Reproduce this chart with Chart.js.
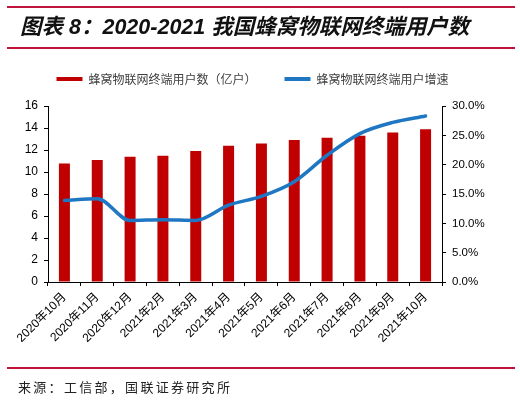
<!DOCTYPE html>
<html><head><meta charset="utf-8">
<script src="https://cdn.jsdelivr.net/npm/chart.js@4.4.0/dist/chart.umd.min.js"></script>
<style>
html,body{margin:0;padding:0;background:#fff;width:520px;height:400px;overflow:hidden;}
#wrap{position:relative;width:520px;height:400px;}
#c{position:absolute;left:0;top:0;}
.rule{position:absolute;left:7px;width:508px;height:2px;background:#C0143C;}
#title{position:absolute;left:20px;top:12px;font:italic bold 21.5px 'Liberation Sans','Noto Sans CJK SC',sans-serif;color:#111;white-space:nowrap;line-height:30px;}
#source{position:absolute;left:18px;top:378px;font:13px 'Noto Sans CJK SC',sans-serif;letter-spacing:2.3px;color:#222;white-space:nowrap;line-height:18px;}
</style>
</head><body>
<div id="wrap">
<canvas id="c" width="520" height="400"></canvas>
<div class="rule" style="top:6px"></div>
<div id="title">图表 8：2020-2021 我国蜂窝物联网终端用户数</div>
<div class="rule" style="top:47px"></div>
<div class="rule" style="top:367px"></div>
<div id="source">来源：工信部，国联证券研究所</div>
</div>
<script>
const categories = ['2020年10月','2020年11月','2020年12月','2021年2月','2021年3月','2021年4月','2021年5月','2021年6月','2021年7月','2021年8月','2021年9月','2021年10月'];
const userCounts = [10.78, 11.08, 11.38, 11.48, 11.9, 12.39, 12.6, 12.9, 13.12, 13.3, 13.6, 13.88];
const growthRates = [13.9, 14.2, 10.5, 10.6, 10.5, 13.1, 14.6, 17.1, 21.6, 25.3, 27.2, 28.3];
const seriesNames = ['蜂窝物联网终端用户数（亿户）', '蜂窝物联网终端用户增速'];

const FONT = "'Liberation Sans','Noto Sans CJK SC',sans-serif";
const RED = '#C00000';
const BLUE = '#1F77C4';

const legendFix = {
  id: 'legendFix',
  beforeLayout(chart) {
    const lg = chart.legend;
    if (lg && !lg._patched) {
      const fit = lg.fit;
      lg.fit = function () { fit.call(this); this.height = 61; };
      lg._patched = true;
    }
  }
};

new Chart(document.getElementById('c'), {
  data: {
    labels: categories,
    datasets: [
      {
        type: 'bar', label: seriesNames[0], data: userCounts, yAxisID: 'y',
        backgroundColor: RED, borderWidth: 0, barPercentage: 0.335, categoryPercentage: 1, order: 1
      },
      {
        type: 'line', label: seriesNames[1], data: growthRates, yAxisID: 'y1',
        borderColor: BLUE, backgroundColor: BLUE, borderWidth: 3.5, pointRadius: 0,
        cubicInterpolationMode: 'monotone', order: 0, borderCapStyle: 'round', borderJoinStyle: 'round'
      }
    ]
  },
  options: {
    responsive: false, animation: false,
    layout: { padding: { top: 45, right: 15, left: 0, bottom: 0 } },
    plugins: {
      legend: {
        position: 'top',
        labels: {
          boxWidth: 26, boxHeight: 4, padding: 28, color: '#404040',
          font: { size: 12, family: "'Noto Sans CJK SC',sans-serif" },
          sort: (a, b) => a.datasetIndex - b.datasetIndex,
          generateLabels(chart) {
            const items = Chart.defaults.plugins.legend.labels.generateLabels(chart);
            items.forEach(it => {
              const ds = chart.data.datasets[it.datasetIndex];
              it.fillStyle = ds.type === 'line' ? ds.borderColor : ds.backgroundColor;
              it.strokeStyle = it.fillStyle;
              it.lineWidth = 0;
            });
            return items;
          }
        }
      },
      tooltip: { enabled: false }
    },
    scales: {
      x: {
        offset: true,
        grid: { display: true, drawOnChartArea: false, drawTicks: true, tickLength: 4, color: '#000', offset: true },
        border: { color: '#000', width: 1 },
        ticks: { minRotation: 45, maxRotation: 45, color: '#000', font: { size: 12, family: FONT }, padding: 4 },
        afterFit(s) { s.height = 118; }
      },
      y: {
        position: 'left', min: 0, max: 16,
        ticks: { stepSize: 2, color: '#000', font: { size: 12, family: FONT }, padding: 6 },
        grid: { drawOnChartArea: false, tickLength: 4, color: '#000' },
        border: { color: '#000', width: 1 },
        afterFit(s) { s.width = 48; }
      },
      y1: {
        position: 'right', min: 0, max: 30,
        ticks: { stepSize: 5, color: '#000', font: { size: 11.5, family: FONT }, padding: 6, callback: v => v.toFixed(1) + '%' },
        grid: { drawOnChartArea: false, tickLength: 4, color: '#000' },
        border: { color: '#000', width: 1 },
        afterFit(s) { s.width = 63; }
      }
    }
  },
  plugins: [legendFix]
});
</script>
</body></html>
